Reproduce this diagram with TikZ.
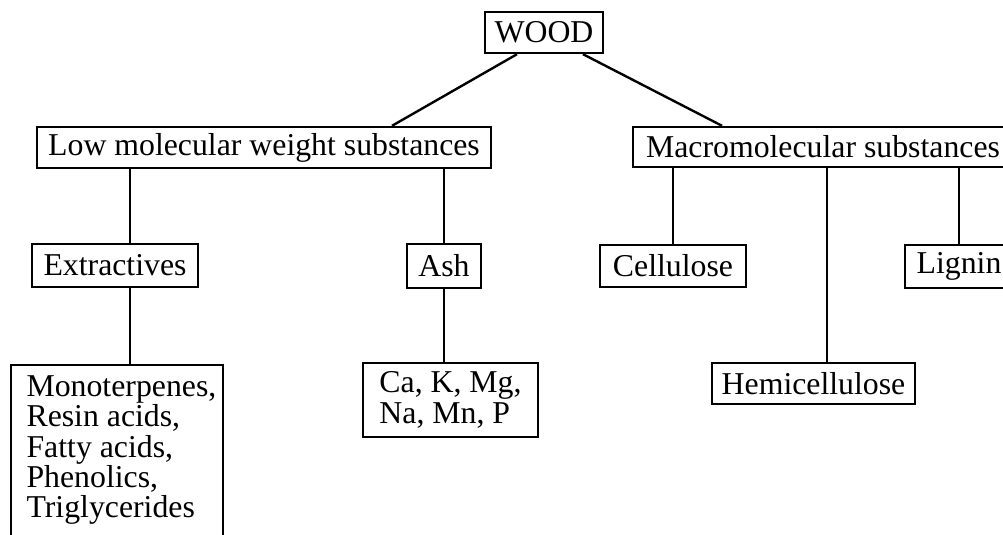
\documentclass[tikz,border=0pt]{standalone}
\usepackage{fontspec}
\setmainfont{Liberation Serif}
\usetikzlibrary{positioning,calc}

\begin{document}
\begin{tikzpicture}[
  x=0.0125cm, y=-0.0125cm,
  txt/.style={font=\fontsize{11.3}{10.8}\selectfont},
  box/.style={txt, draw, line width=0.85pt, inner sep=0pt, align=center},
  link/.style={line width=0.85pt}
]
% 1 unit = 1 pixel of the original figure
\def\px{0.0125}
\useasboundingbox (0,0) rectangle (1003,534);
\clip (0,0) rectangle (1003,534);

% Root
\node[box, minimum width=118*\px cm, minimum height=41*\px cm] (wood) at (544,32.5) {WOOD};

% Second level
\node[box, minimum width=454*\px cm, minimum height=41*\px cm] (low) at (264,147.5) {Low molecular weight substances};
\node[box, minimum width=380*\px cm, minimum height=40*\px cm] (macro) at (823,147) {Macromolecular substances};

% Third level
\node[box, minimum width=166*\px cm, minimum height=43*\px cm] (extr) at (115,265.5) {Extractives};
\node[box, minimum width=74*\px cm, minimum height=44*\px cm] (ash) at (444,266) {Ash};
\node[box, minimum width=146*\px cm, minimum height=42*\px cm] (cell) at (673,266) {Cellulose};
\node[box, minimum width=108*\px cm, minimum height=43*\px cm] (lignin) at (959,266.5) {Lignin};
\node[box, minimum width=203*\px cm, minimum height=41*\px cm] (hemi) at (813.5,383.5) {Hemicellulose};

% Fourth level
\node[box, align=left, minimum width=175*\px cm, minimum height=74*\px cm] (ca) at (450.5,400) {Ca, K, Mg,\\Na, Mn, P};
\node[box, anchor=north west, minimum width=212*\px cm, minimum height=200*\px cm] (mono) at (10,364) {};
\node[txt, anchor=north west, inner sep=0pt, align=left] (monotext) at (26,375)
  {Monoterpenes,\\Resin acids,\\Fatty acids,\\Phenolics,\\Triglycerides};

% Connectors
\draw[link] ($(wood.south)+(-27,0)$) -- ($(low.north)+(128,0)$);
\draw[link] ($(wood.south)+(39,0)$) -- ($(macro.north)+(-101,0)$);
\draw[link] ($(extr.north)+(15,0)$) -- ($(extr.north |- low.south)+(15,0)$);
\draw[link] (ash.north) -- (ash.north |- low.south);
\draw[link] ($(extr.south)+(15,0)$) -- ($(extr.south |- mono.north)+(15,0)$);
\draw[link] (ash.south) -- (ash.south |- ca.north);
\draw[link] (cell.north) -- (cell.north |- macro.south);
\draw[link] ($(hemi.north)+(13.5,0)$) -- ($(hemi.north |- macro.south)+(13.5,0)$);
\draw[link] (lignin.north) -- (lignin.north |- macro.south);
\end{tikzpicture}
\end{document}
